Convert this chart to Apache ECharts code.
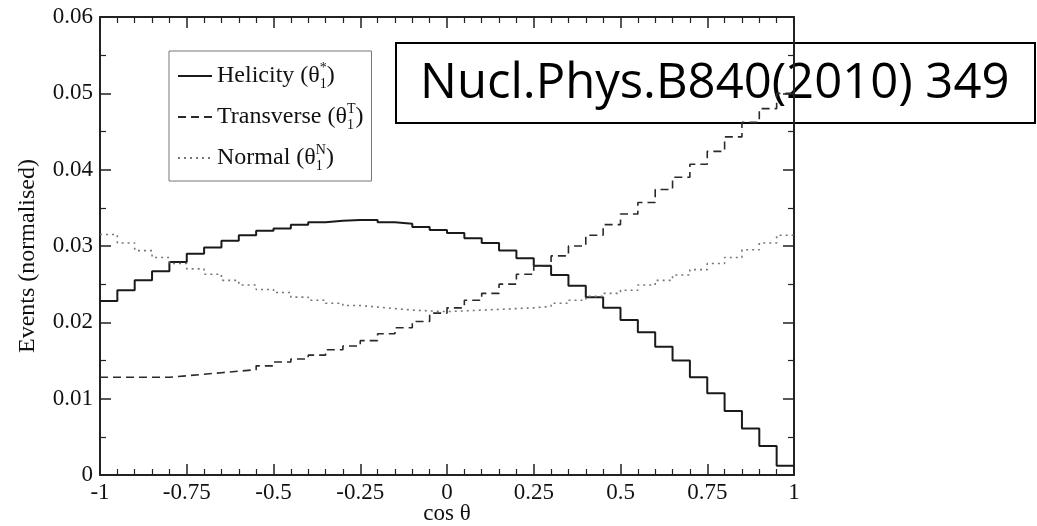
<!DOCTYPE html>
<html>
<head>
<meta charset="utf-8">
<script src="https://cdn.jsdelivr.net/npm/echarts@6/dist/echarts.min.js"></script>
<style>
  html, body { margin: 0; padding: 0; background: #fff; }
  #chart { width: 1037px; height: 526px; }
</style>
</head>
<body>
<div id="chart"></div>
<script>
// Bin edges of the cos(theta) histogram (40 bins of width 0.05)
const binEdges = [
  -1, -0.95, -0.9, -0.85, -0.8, -0.75, -0.7, -0.65, -0.6, -0.55,
  -0.5, -0.45, -0.4, -0.35, -0.3, -0.25, -0.2, -0.15, -0.1, -0.05,
  0, 0.05, 0.1, 0.15, 0.2, 0.25, 0.3, 0.35, 0.4, 0.45,
  0.5, 0.55, 0.6, 0.65, 0.7, 0.75, 0.8, 0.85, 0.9, 0.95, 1
];

// Normalised event fractions per bin
const helicity = [
  0.0228, 0.0242, 0.0255, 0.0267, 0.0279, 0.0290, 0.0298, 0.0307, 0.0314, 0.0320,
  0.0323, 0.0328, 0.0331, 0.0333, 0.0334, 0.0334, 0.0331, 0.0329, 0.0325, 0.0321,
  0.0317, 0.0310, 0.0304, 0.0294, 0.0284, 0.0274, 0.0262, 0.0248, 0.0233, 0.0219,
  0.0203, 0.0187, 0.0168, 0.0150, 0.0128, 0.0107, 0.0084, 0.0061, 0.0038, 0.0012
];
const transverse = [
  0.0128, 0.0128, 0.0128, 0.0128, 0.0130, 0.0132, 0.0134, 0.0136, 0.0138, 0.0143,
  0.0148, 0.0152, 0.0157, 0.0164, 0.0169, 0.0176, 0.0185, 0.0193, 0.0201, 0.0212,
  0.0219, 0.0229, 0.0238, 0.0250, 0.0263, 0.0274, 0.0287, 0.0300, 0.0314, 0.0328,
  0.0342, 0.0357, 0.0374, 0.0390, 0.0407, 0.0424, 0.0443, 0.0462, 0.0480, 0.0500
];
const normal = [
  0.0315, 0.0304, 0.0294, 0.0285, 0.0277, 0.0270, 0.0263, 0.0255, 0.0249, 0.0243,
  0.0239, 0.0233, 0.0229, 0.0225, 0.0222, 0.0220, 0.0218, 0.0216, 0.0215, 0.0214,
  0.0215, 0.0216, 0.0217, 0.0218, 0.0219, 0.0221, 0.0225, 0.0229, 0.0234, 0.0238,
  0.0242, 0.0249, 0.0255, 0.0262, 0.0269, 0.0277, 0.0285, 0.0295, 0.0304, 0.0314
];

const xTickLabels = ['-1', '-0.75', '-0.5', '-0.25', '0', '0.25', '0.5', '0.75', '1'];
const yTickLabels = ['0', '0.01', '0.02', '0.03', '0.04', '0.05', '0.06'];

const seriesNames = ['Helicity', 'Transverse', 'Normal'];
const angleMarks = { Helicity: '*', Transverse: 'T', Normal: 'N' };
const referenceText = 'Nucl.Phys.B840(2010) 349';

// Turn per-bin values into step-line points (left edges plus closing right edge)
function histogram(values) {
  const pts = values.map((v, i) => [binEdges[i], v]);
  pts.push([binEdges[values.length], values[values.length - 1]]);
  return pts;
}

const serif = 'Liberation Serif, Times New Roman, serif';
const ink = '#111';
const frame = '#222';

function axisCommon(extra) {
  return Object.assign({
    type: 'value',
    axisLine: { show: true, onZero: false, lineStyle: { color: frame, width: 2 } },
    axisTick: { show: true, inside: true, length: 11, lineStyle: { color: frame, width: 1.5 } },
    splitLine: { show: false },
    minorSplitLine: { show: false }
  }, extra);
}

const chart = echarts.init(document.getElementById('chart'), null, { renderer: 'canvas' });

chart.setOption({
  animation: false,
  backgroundColor: '#fff',
  grid: {
    left: 100, top: 17, width: 694, height: 458,
    containLabel: false, outerBoundsMode: 'none'
  },
  xAxis: [
    axisCommon({
      min: -1, max: 1, interval: 0.25, position: 'bottom',
      minorTick: { show: true, splitNumber: 5, length: 6, lineStyle: { color: frame, width: 1.2 } },
      axisLabel: {
        margin: 6, color: ink, fontFamily: serif, fontSize: 23,
        formatter: v => xTickLabels[Math.round((v + 1) / 0.25)]
      },
      name: 'cos θ', nameLocation: 'middle', nameGap: 27, nameMoveOverlap: false,
      nameTextStyle: { color: ink, fontFamily: serif, fontSize: 23 }
    }),
    axisCommon({
      min: -1, max: 1, interval: 0.25, position: 'top',
      minorTick: { show: true, splitNumber: 5, length: 6, lineStyle: { color: frame, width: 1.2 } },
      axisLabel: { show: false }
    })
  ],
  yAxis: [
    axisCommon({
      min: 0, max: 0.06, interval: 0.01, position: 'left',
      minorTick: { show: true, splitNumber: 2, length: 6, lineStyle: { color: frame, width: 1.2 } },
      axisLabel: {
        margin: 7, color: ink, fontFamily: serif, fontSize: 23,
        formatter: v => yTickLabels[Math.round(v / 0.01)]
      },
      name: 'Events (normalised)', nameLocation: 'middle', nameGap: 60,
      nameTextStyle: { color: ink, fontFamily: serif, fontSize: 24, padding: [0, 20, 0, 0] }
    }),
    axisCommon({
      min: 0, max: 0.06, interval: 0.01, position: 'right',
      minorTick: { show: true, splitNumber: 2, length: 6, lineStyle: { color: frame, width: 1.2 } },
      axisLabel: { show: false }
    })
  ],
  legend: {
    data: seriesNames,
    orient: 'vertical',
    left: 169, top: 51,
    padding: [10, 8, 8, 8],
    itemGap: 11,
    itemWidth: 34, itemHeight: 14,
    borderColor: '#777', borderWidth: 1,
    backgroundColor: '#fff',
    itemStyle: { opacity: 0 },
    formatter: name => '{t|' + name + ' (θ}{sb|1}{sp|' + angleMarks[name] + '}{t|)}',
    textStyle: {
      color: ink,
      rich: {
        t: { fontFamily: serif, fontSize: 24, lineHeight: 30, color: ink },
        sb: { fontFamily: serif, fontSize: 14, lineHeight: 14, verticalAlign: 'bottom', width: 0, color: ink },
        sp: { fontFamily: serif, fontSize: 14, lineHeight: 14, verticalAlign: 'top', color: ink }
      }
    }
  },
  series: [
    {
      name: 'Helicity', type: 'line', step: 'end', symbol: 'none',
      xAxisIndex: 0, yAxisIndex: 0,
      data: histogram(helicity),
      lineStyle: { color: '#1a1a1a', width: 2, type: 'solid' },
      itemStyle: { color: '#1a1a1a' }
    },
    {
      name: 'Transverse', type: 'line', step: 'end', symbol: 'none',
      xAxisIndex: 0, yAxisIndex: 0,
      data: histogram(transverse),
      lineStyle: { color: '#2a2a2a', width: 1.6, type: [8, 5] },
      itemStyle: { color: '#2a2a2a' }
    },
    {
      name: 'Normal', type: 'line', step: 'end', symbol: 'none',
      xAxisIndex: 0, yAxisIndex: 0,
      data: histogram(normal),
      lineStyle: { color: '#777', width: 1.6, type: [2, 4] },
      itemStyle: { color: '#777' }
    }
  ],
  graphic: [
    {
      type: 'group', z: 100,
      children: [
        {
          type: 'rect',
          shape: { x: 396, y: 43, width: 639, height: 80 },
          style: { fill: 'none', stroke: '#000', lineWidth: 2 }
        },
        {
          type: 'text',
          x: 420, y: 84,
          style: {
            text: referenceText,
            font: '49px "Open Sans", "Noto Sans", sans-serif',
            fill: '#000',
            verticalAlign: 'middle',
            align: 'left'
          }
        }
      ]
    }
  ]
});
</script>
</body>
</html>
